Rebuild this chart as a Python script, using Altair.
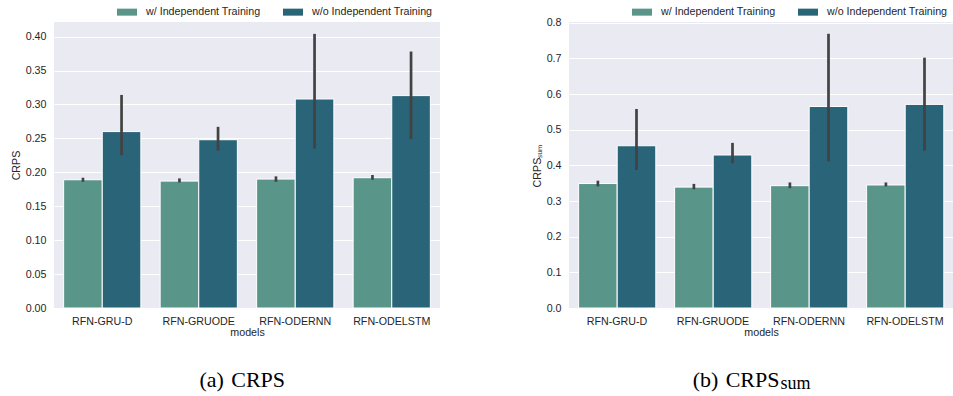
import altair as alt
import pandas as pd

models = ["RFN-GRU-D", "RFN-GRUODE", "RFN-ODERNN", "RFN-ODELSTM"]
conds = ["w/ Independent Training", "w/o Independent Training"]
colors = ["#5A9589", "#2A6478"]

# Panel (a) CRPS
crps_w = [0.189, 0.187, 0.190, 0.192]
crps_w_lo = [0.186, 0.185, 0.186, 0.189]
crps_w_hi = [0.192, 0.191, 0.194, 0.196]
crps_wo = [0.260, 0.248, 0.308, 0.313]
crps_wo_lo = [0.225, 0.232, 0.235, 0.249]
crps_wo_hi = [0.314, 0.267, 0.404, 0.378]

# Panel (b) CRPS_sum
sum_w = [0.349, 0.339, 0.343, 0.345]
sum_w_lo = [0.341, 0.333, 0.336, 0.341]
sum_w_hi = [0.357, 0.348, 0.352, 0.352]
sum_wo = [0.455, 0.429, 0.565, 0.571]
sum_wo_lo = [0.387, 0.406, 0.411, 0.441]
sum_wo_hi = [0.558, 0.463, 0.769, 0.702]

ticks_a = [0.00, 0.05, 0.10, 0.15, 0.20, 0.25, 0.30, 0.35, 0.40]
ticks_b = [0.0, 0.1, 0.2, 0.3, 0.4, 0.5, 0.6, 0.7, 0.8]

FONT = "Liberation Sans"
FS = 10.7
TXT = "#262626"
H = 286


def make_df(w, wlo, whi, wo, wolo, wohi):
    rows = []
    for i, m in enumerate(models):
        rows.append(dict(model=m, cond=conds[0], v=w[i], lo=wlo[i], hi=whi[i]))
        rows.append(dict(model=m, cond=conds[1], v=wo[i], lo=wolo[i], hi=wohi[i]))
    return pd.DataFrame(rows)


def panel(df, ydomain, yvals, fmt, ytitle, width, captions):
    xax = alt.Axis(labelAngle=0, grid=False, labelPadding=8, titlePadding=2)
    xsc = alt.Scale(paddingInner=0.2, paddingOuter=0.1)
    x = alt.X("model:N", sort=models, title="models", scale=xsc, axis=xax)
    xo = alt.XOffset("cond:N", sort=conds,
                     scale=alt.Scale(paddingInner=0, paddingOuter=0))
    ysc = alt.Scale(domain=ydomain, nice=False, zero=True)
    yax = alt.Axis(values=yvals, format=fmt, labelPadding=8, titlePadding=4)
    color = alt.Color(
        "cond:N", sort=conds,
        scale=alt.Scale(domain=conds, range=colors),
        legend=alt.Legend(
            title=None, orient="none", legendX=63, legendY=-20,
            direction="horizontal",
            symbolType="M-1,-0.35L1,-0.35L1,0.35L-1,0.35Z",
            symbolSize=400, symbolStrokeWidth=0,
            labelFont=FONT, labelFontSize=FS, labelColor=TXT,
            columnPadding=22, labelOffset=9, padding=0,
        ),
    )
    bars = alt.Chart(df).mark_bar(stroke="white", strokeWidth=1).encode(
        x=x, xOffset=xo,
        y=alt.Y("v:Q", title=ytitle, scale=ysc, axis=yax),
        color=color,
    )
    err = alt.Chart(df).mark_rule(color="#424242", strokeWidth=2.7).encode(
        x=x, xOffset=xo,
        y=alt.Y("lo:Q", title=ytitle, scale=ysc, axis=yax),
        y2="hi:Q",
    )
    layers = [bars, err]
    for (t, fs, xx, yy, al) in captions:
        layers.append(
            alt.Chart(pd.DataFrame({"t": [t]})).mark_text(
                font="Liberation Serif", fontSize=fs, color="black",
                align=al, baseline="alphabetic",
            ).encode(text="t:N", x=alt.value(xx), y=alt.value(yy))
        )
    return alt.layer(*layers).properties(width=width, height=H)


left = panel(
    make_df(crps_w, crps_w_lo, crps_w_hi, crps_wo, crps_wo_lo, crps_wo_hi),
    [0, 0.4215], ticks_a, ".2f", "CRPS", 386,
    [("(a)\u2004CRPS", 22, 188.3, 364.7, "center")],
)
right = panel(
    make_df(sum_w, sum_w_lo, sum_w_hi, sum_wo, sum_wo_lo, sum_wo_hi),
    [0, 0.802], ticks_b, ".1f", "CRPS\u209b\u1d64\u2098", 384,
    [("(b)\u2004CRPS", 22, 210.5, 364.7, "right"),
     ("sum", 18, 211.5, 366.5, "left")],
)

chart = (
    alt.hconcat(left, right, spacing=91)
    .resolve_scale(color="independent")
    .properties(padding={"left": 10, "top": 2, "right": 0, "bottom": 0},
                background="white")
    .configure_view(fill="#EAEAF2", strokeWidth=0)
    .configure_axis(
        gridColor="white", gridWidth=1, domain=False, ticks=False, tickSize=0,
        labelFont=FONT, labelFontSize=FS, labelColor=TXT,
        titleFont=FONT, titleFontSize=FS, titleColor=TXT,
        titleFontWeight="normal",
    )
)

chart.save("out.html", embed_options={"renderer": "svg", "actions": False})
